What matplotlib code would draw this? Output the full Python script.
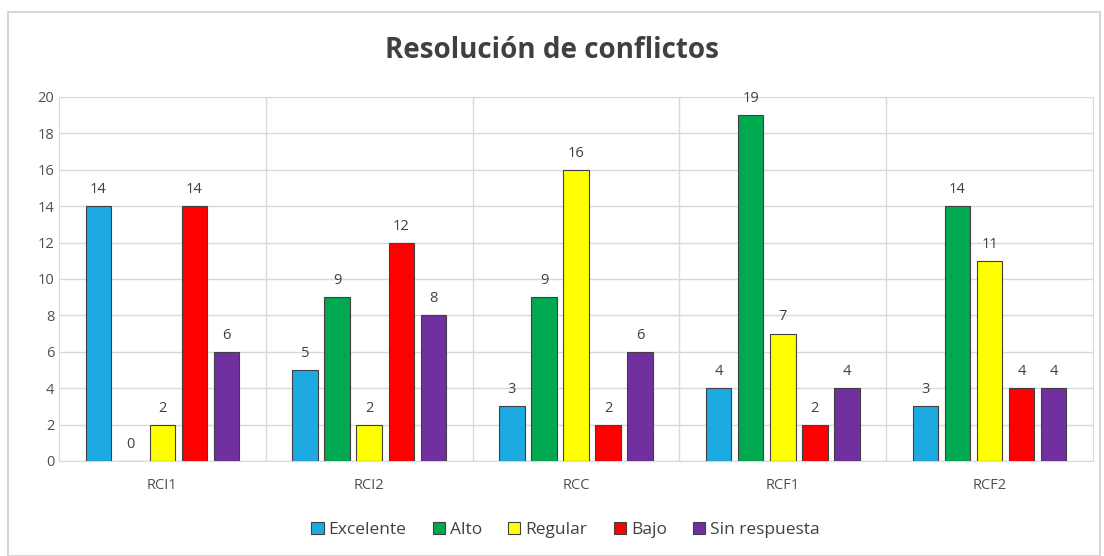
import numpy as np
from matplotlib import pyplot as plt
from matplotlib.patches import Rectangle

categories = ["RCI1", "RCI2", "RCC", "RCF1", "RCF2"]
series = ["Excelente", "Alto", "Regular", "Bajo", "Sin respuesta"]
excelente = [14, 5, 3, 4, 3]
alto = [0, 9, 9, 19, 14]
regular = [2, 2, 16, 7, 11]
bajo = [14, 12, 2, 2, 4]
sin_resp = [6, 8, 6, 4, 4]
values = [excelente, alto, regular, bajo, sin_resp]
colors = ["#1DA9E1", "#00A850", "#FFFF00", "#FF0000", "#7030A0"]

plt.rcParams['font.family'] = ['Open Sans', 'DejaVu Sans']

fig = plt.figure(figsize=(11.04, 5.56), dpi=100)
fig.patches.append(Rectangle((8/1104, 0), 1092/1104, 1 - 12/556, transform=fig.transFigure,
                             fill=False, edgecolor="#D0D0D0", linewidth=1.2))
ax = fig.add_axes([59/1104, 1 - 461/556, (1093 - 59)/1104, (461 - 97)/556])

x = np.arange(len(categories))
step = 0.155
width = 0.123
for i, (name, vals, c) in enumerate(zip(series, values, colors)):
    pos = x + (i - 2) * step
    ax.bar(pos, vals, width, color=c, edgecolor="#404040", linewidth=0.8, label=name, zorder=3)
    for xp, v in zip(pos, vals):
        ax.text(xp, v + 0.5, str(v), ha="center", va="bottom", fontsize=10.5, color="#404040")

ax.set_xlim(-0.5, len(categories) - 0.5)
ax.set_ylim(0, 20)
ax.set_yticks(range(0, 21, 2))
ax.set_xticks(x)
ax.set_xticklabels(categories)
ax.tick_params(axis="both", length=0, labelsize=10.5, labelcolor="#505050")
ax.tick_params(axis="x", pad=12)
ax.grid(axis="y", color="#D9D9D9", linewidth=1, zorder=0)
for b in np.arange(0.5, len(categories) - 0.5, 1):
    ax.axvline(b, color="#D9D9D9", linewidth=1, zorder=0)
for s in ax.spines.values():
    s.set_color("#D9D9D9")

fig.text(0.5, 1 - 50/556, "Resolución de conflictos", ha="center", va="center",
         fontsize=20, fontweight="bold", color="#404040")
ax.legend(loc="center", bbox_to_anchor=(0.49, -0.19), ncol=5, frameon=False,
          fontsize=12.5, handlelength=0.7, handleheight=0.7, handletextpad=0.3,
          columnspacing=1.5, labelcolor="#404040")

fig.savefig("out.png", dpi=100)
